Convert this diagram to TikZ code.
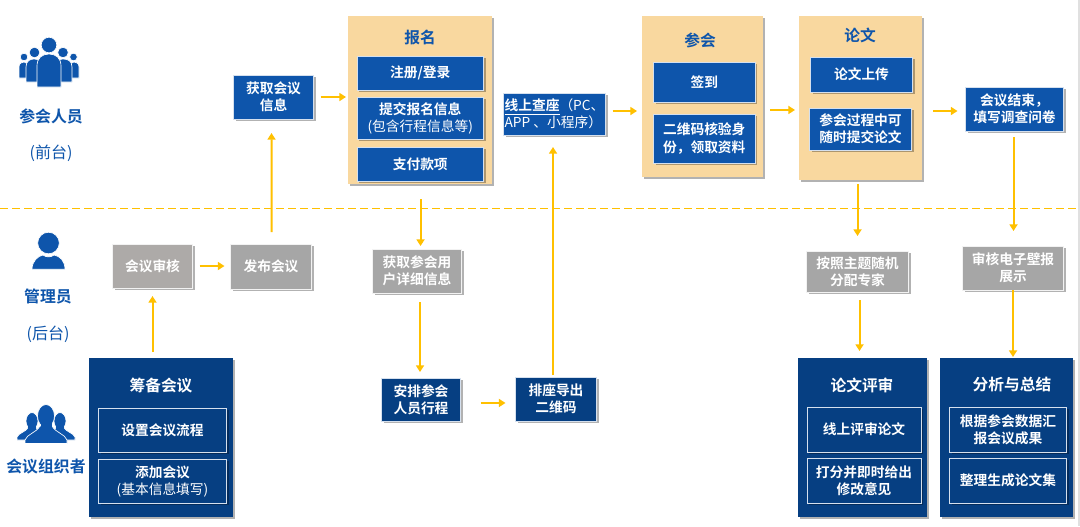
\documentclass[tikz,border=0pt]{standalone}
\usepackage{fontspec}
\setmainfont{Noto Sans CJK SC}[BoldFont={Noto Sans CJK SC Bold}]
\usetikzlibrary{arrows.meta,shadows,calc}
\definecolor{bblue}{HTML}{0E55AB}
\definecolor{dblue}{HTML}{063F82}
\definecolor{peach}{HTML}{F9D89F}
\definecolor{gbox}{HTML}{A6A6A6}
\definecolor{gbox2}{HTML}{ADAAA8}
\definecolor{amber}{HTML}{FFC000}
\definecolor{edgec}{HTML}{D5E0EE}
\tikzset{
  x=0.75pt,y=-0.75pt,
  shd/.style={drop shadow={shadow xshift=1.6pt,shadow yshift=-1.6pt,fill=black,opacity=.3}},
  pbox/.style={inner sep=0pt,outer sep=0pt,align=center,font=\fontsize{10.3pt}{12.8pt}\selectfont\bfseries,text=white,shd},
  bluebox/.style={pbox,fill=bblue,draw=edgec,line width=.75pt},
  darkbox/.style={pbox,fill=dblue,draw=edgec,line width=.75pt},
  greybox/.style={pbox,fill=gbox,draw=white!85!gbox,line width=.75pt},
  greybox2/.style={greybox,fill=gbox2},
  peachpanel/.style={pbox,fill=peach,draw=none},
  darkpanel/.style={pbox,fill=dblue,draw=none},
  paneltitle/.style={inner sep=0pt,font=\fontsize{11.8pt}{14pt}\selectfont\bfseries},
  role/.style={inner sep=0pt,text=bblue,font=\fontsize{11.9pt}{14pt}\selectfont\bfseries},
  rolesub/.style={inner sep=0pt,text=bblue,font=\fontsize{12pt}{14pt}\selectfont},
  arr/.style={draw=amber,line width=1.5pt,-{Triangle[length=5pt,width=6pt]}},
  sep/.style={draw=amber,line width=1.1pt,dash pattern=on 6pt off 3pt},
  icon/.style={fill=bblue,draw=white,line width=.5pt},
}
\newcommand{\pb}[7]{\node[#6,minimum width={(#4-#2)*0.75pt},minimum height={(#5-#3)*0.75pt}] (#1) at ({(#2+#4)/2},{(#3+#5)/2}) {#7};}
\newcommand{\reg}[1]{{\mdseries #1}}
\begin{document}
\begin{tikzpicture}
\useasboundingbox (0,0) rectangle (1080,526);
\fill[white] (0,0) rectangle (1080,526);
\fill[black!12] (1078,0) rectangle (1080,526);

% separator
\coordinate (dl) at (0,208.5);
\coordinate (dr) at (1078,208.5);
\draw[sep] (dl) -- (dr);

% panels
\pb{baoming}{348}{16}{492}{184}{peachpanel}{}
\pb{canhui}{642}{16}{763}{177}{peachpanel}{}
\pb{lunwen}{799}{16}{922}{180}{peachpanel}{}
\pb{choubei}{89}{358}{233}{517}{darkpanel}{}
\pb{pingshen}{798}{358}{927}{517}{darkpanel}{}
\pb{fenxi}{940}{358}{1073}{517}{darkpanel}{}

% panel titles
\node[paneltitle,text=bblue] (t1) at (420,37) {报名};
\node[paneltitle,text=bblue] (t2) at (700,40) {参会};
\node[paneltitle,text=bblue] (t3) at (860,35.5) {论文};
\node[paneltitle,text=white] (t4) at (161,385.5) {筹备会议};
\node[paneltitle,text=white] (t5) at (862,385) {论文评审};
\node[paneltitle,text=white] (t6) at (1012,385) {分析与总结};

% blue boxes
\pb{huoqu}{233.5}{75}{313.5}{119}{bluebox}{获取会议\\信息}
\pb{zhuce}{357}{56}{483.5}{90}{bluebox}{注册/登录}
\pb{tijiao}{357}{97}{483.5}{139}{bluebox}{提交报名信息\\\reg{(包含行程信息等)}}
\pb{zhifu}{357}{147}{483.5}{181}{bluebox}{支付款项}
\node[bluebox,minimum width={102*0.75pt},minimum height={42*0.75pt},align=left] (chazuo) at (554.5,114) {\underline{线上查座}\reg{（PC、}\\\reg{APP 、小程序）}};
\pb{qiandao}{653.5}{62}{755}{102}{bluebox}{签到}
\pb{erwei}{653.5}{114}{755}{163}{bluebox}{二维码核验身\\份，领取资料}
\pb{shangchuan}{810.5}{57}{912.5}{92}{bluebox}{论文上传}
\pb{guocheng}{809.5}{108}{911.5}{150}{bluebox}{参会过程中可\\随时提交论文}
\pb{jieshu}{965.5}{87}{1063.5}{131}{bluebox}{会议结束，\\填写调查问卷}

% grey boxes
\pb{shenhe}{112.5}{244}{192.5}{288}{greybox2}{会议审核}
\pb{fabu}{230.5}{244}{311.5}{289}{greybox}{发布会议}
\pb{yonghu}{372.5}{249}{461.5}{293}{greybox}{获取参会用\\户详细信息}
\pb{anzhao}{806.5}{251}{908.5}{292}{greybox}{按照主题随机\\分配专家}
\pb{dianzi}{962.5}{246}{1063.5}{290}{greybox}{审核电子壁报\\展示}

% dark boxes
\pb{anpai}{381.5}{378}{460.5}{421}{darkbox}{安排参会\\人员行程}
\pb{paizuo}{515.5}{377}{596.5}{421}{darkbox}{排座导出\\二维码}
\pb{shezhi}{98.5}{408}{226.5}{452}{darkbox}{设置会议流程}
\pb{tianjia}{98.5}{459}{226.5}{503}{darkbox}{添加会议\\\reg{(基本信息填写)}}
\pb{xianshang}{807}{407}{921}{452}{darkbox}{线上评审论文}
\pb{dafen}{807}{458}{921}{503}{darkbox}{打分并即时给出\\修改意见}
\pb{huibao}{949.5}{407}{1066.5}{452}{darkbox}{根据参会数据汇\\报会议成果}
\pb{zhengli}{949.5}{458}{1066.5}{503}{darkbox}{整理生成论文集}

% connectors
\draw[arr,shorten <=9pt,shorten >=10.5pt] ([xshift=.4pt]fabu.north) -- ([xshift=-1.5pt]huoqu.south);
\draw[arr,shorten <=5.25pt,shorten >=1.5pt] (huoqu.east) -- (huoqu.east -| baoming.west);
\draw[arr,shorten <=5.25pt,shorten >=3.75pt] ([yshift=2.25pt]chazuo.east) -- ([yshift=2.25pt]chazuo.east -| canhui.west);
\draw[arr,shorten <=5.25pt,shorten >=3pt] ([yshift=-10.1pt]canhui.east) -- ([yshift=-10.1pt]canhui.east -| lunwen.west);
\draw[arr,shorten <=8.25pt,shorten >=6pt] ([yshift=-1.5pt]lunwen.east |- jieshu.west) -- ([yshift=-1.5pt]jieshu.west);
\draw[arr,shorten <=5.25pt,shorten >=4.5pt] (shenhe.east) -- (shenhe.east -| fabu.west);
\draw[arr,shorten <=4.5pt,shorten >=6pt] (shenhe.south |- choubei.north) -- (shenhe.south);
\draw[arr,shorten <=11.25pt,shorten >=2.25pt] ([xshift=.4pt]baoming.south) -- ([xshift=.4pt]baoming.south |- yonghu.north);
\draw[arr,shorten <=6.75pt,shorten >=4.5pt] ([xshift=2.25pt]yonghu.south) -- ([xshift=2.25pt]yonghu.south |- anpai.north);
\draw[arr,shorten <=15pt,shorten >=7.5pt] ([yshift=-2.6pt]anpai.east) -- ([yshift=-2.6pt]anpai.east -| paizuo.west);
\draw[arr,shorten <=1.5pt,shorten >=9pt] ([xshift=-2.25pt]paizuo.north) -- ([xshift=-2.25pt]paizuo.north |- chazuo.south);
\draw[arr,shorten <=3pt,shorten >=11.25pt] (anzhao.north |- lunwen.south) -- (anzhao.north);
\draw[arr,shorten <=6pt,shorten >=5.25pt] ([xshift=1.5pt]anzhao.south) -- ([xshift=1.5pt]anzhao.south |- pingshen.north);
\draw[arr,shorten <=4.5pt,shorten >=11.25pt] ([xshift=-.75pt]jieshu.south) -- ([xshift=-.75pt]jieshu.south |- dianzi.north);
\draw[arr,shorten >=.75pt] (dianzi.south) -- (dianzi.south |- fenxi.north);

% role labels
\node[role] (r1) at (51,116) {参会人员};
\node[rolesub] (r1s) at (51,153.5) {(前台)};
\node[role] (r2) at (48,296) {管理员};
\node[rolesub] (r2s) at (48,334) {(后台)};
\node[role] (r3) at (46,467) {会议组织者};

% icon: attendees
\fill[icon] (19,78) -- (19,67) .. controls (19,63) and (22,62) .. (24,62) .. controls (27,62) and (28,64) .. (28,67) -- (28,78) -- cycle;
\fill[icon] (79,78) -- (79,67) .. controls (79,63) and (76,62) .. (74,62) .. controls (71,62) and (70,64) .. (70,67) -- (70,78) -- cycle;
\fill[icon] (24,57) circle (3.8);
\fill[icon] (73.5,57) circle (3.8);
\fill[icon] (26,82) -- (26,67) .. controls (26,61) and (30,59) .. (34,59) .. controls (38,59) and (42,61) .. (42,67) -- (42,82) -- cycle;
\fill[icon] (72,82) -- (72,67) .. controls (72,61) and (68,59) .. (63,59) .. controls (59,59) and (56,61) .. (56,67) -- (56,82) -- cycle;
\fill[icon] (34.5,52.5) circle (5.3);
\fill[icon] (63,52.5) circle (5.3);
\fill[icon] (37,87) -- (37,66) .. controls (37,58) and (42,54) .. (49,54) .. controls (56,54) and (61,58) .. (61,66) -- (61,87) -- cycle;
\fill[icon] (49,45) circle (7.8);

% icon: administrator
\fill[icon] (48.5,243) circle (10.8);
\fill[icon] (32,269.3) .. controls (32,261) and (38,256) .. (43,255) .. controls (46,257.5) and (51,257.5) .. (54,255) .. controls (60,256) and (65,261) .. (65,269.3) -- cycle;

% icon: organisers
\fill[icon] (32,421) ellipse (6 and 8.5);
\fill[icon] (60,421) ellipse (6 and 8.5);
\fill[icon] (17,440) -- (17,437) .. controls (19,433) and (25,432) .. (28,428) -- (40,429) -- (40,440) -- cycle;
\fill[icon] (75,440) -- (75,437) .. controls (73,433) and (67,432) .. (64,428) -- (52,429) -- (52,440) -- cycle;
\fill[bblue] (28,424) rectangle (36,431);
\fill[bblue] (56,424) rectangle (64,431);
\fill[icon] (46,416) ellipse (8.5 and 11.5);
\fill[icon] (25,443.5) -- (25,440) .. controls (27,434) and (36,433) .. (40,426) -- (52,426) .. controls (56,433) and (65,434) .. (67,440) -- (67,443.5) -- cycle;
\fill[bblue] (40.5,420) rectangle (51.5,430);
\end{tikzpicture}
\end{document}
